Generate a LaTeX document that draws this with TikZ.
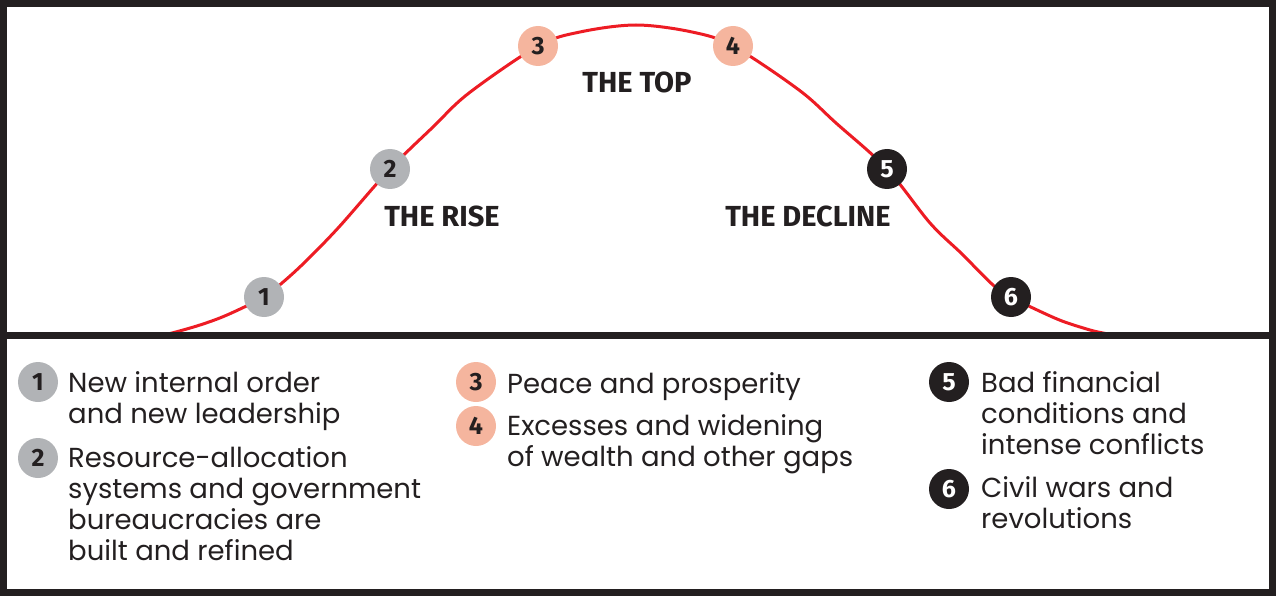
\documentclass[tikz,border=0pt]{standalone}
\usepackage{fontspec}
\setmainfont{Poppins}
\newfontfamily\headfont{Fira Sans}
\definecolor{inkblack}{HTML}{231F20}
\definecolor{curvered}{HTML}{ED1C24}
\definecolor{badgegray}{HTML}{B1B3B6}
\definecolor{badgepeach}{HTML}{F5B59E}

\begin{document}
\begin{tikzpicture}[x=1pt, y=-1pt,
    badge/.style={circle, minimum size=40pt, inner sep=0pt, text=inkblack,
        font=\headfont\bfseries\fontsize{25}{25}\selectfont},
    rise/.style={badge, fill=badgegray},
    peak/.style={badge, fill=badgepeach},
    fall/.style={badge, fill=inkblack, text=white},
    phase/.style={text=inkblack, font=\headfont\bfseries\fontsize{29}{34}\selectfont},
    keytext/.style={anchor=north west, align=left, inner sep=0pt, text=inkblack,
        font=\fontsize{27.5}{31}\selectfont, execute at begin node=\strut}]
    \useasboundingbox (0,0) rectangle (1276,596);

    \draw[curvered, line width=3pt] plot[smooth, tension=0.55] coordinates {
        (158,336) (172,333) (200,325) (227,315) (264,297) (282,283) (305,262)
        (339,227) (390,169) (433,127) (469,93) (538,46) (580,32) (636,25)
        (692,32) (733,46) (799,90) (836,123) (887,169) (930,223) (962,254)
        (993,285) (1011,297) (1035,309) (1062,321) (1090,330) (1103,333) (1118,336)};

    \node[rise] (b1) at (264,297) {1};
    \node[rise] (b2) at (390,169) {2};
    \node[peak] (b3) at (538,46) {3};
    \node[peak] (b4) at (733,46) {4};
    \node[fall] (b5) at (887,169) {5};
    \node[fall] (b6) at (1011,297) {6};

    \node[phase] (top) at (637,82) {THE TOP};
    \node[phase] (risephase) at (442,216) {THE RISE};
    \node[phase] (declinephase) at (808,216) {THE DECLINE};

    \draw[inkblack, line width=7pt] (3.5,3.5) rectangle (1272.5,592.5);
    \draw[inkblack, line width=7pt] (0,335) -- (1276,335);

    \node[rise] (k1) at (38,382) {1};
    \node[rise] (k2) at (38,458) {2};
    \node[peak] (k3) at (476,382) {3};
    \node[peak] (k4) at (476,426) {4};
    \node[fall] (k5) at (949,382) {5};
    \node[fall] (k6) at (949,489) {6};

    \node[keytext] (t1) at (68,371.3) {New internal order\\and new leadership};
    \node[keytext] (t2) at (68,446.3) {Resource-allocation\\systems and government\\bureaucracies are\\built and refined};
    \node[keytext] (t3) at (507,371.3) {Peace and prosperity};
    \node[keytext] (t4) at (507,414.3) {Excesses and widening\\of wealth and other gaps};
    \node[keytext] (t5) at (981,371.3) {Bad financial\\conditions and\\intense conflicts};
    \node[keytext] (t6) at (981,476.3) {Civil wars and\\revolutions};
\end{tikzpicture}
\end{document}
